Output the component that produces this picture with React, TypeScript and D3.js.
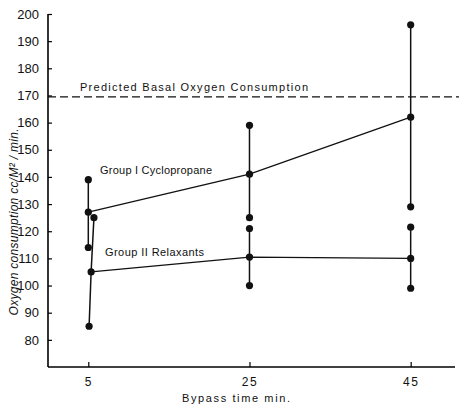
import React, { useEffect, useRef } from "react";
import * as d3 from "d3";

const xTicks = [5, 25, 45];
const yTicks = [80, 90, 100, 110, 120, 130, 140, 150, 160, 170, 180, 190, 200];
const predictedBasal = 169.5;

// Group I Cyclopropane: means joined by a line, with ranges at each time
const groupIMeans = [
  { t: 5, v: 127 },
  { t: 25, v: 141 },
  { t: 45, v: 162 },
];
const groupIRanges = [
  [{ t: 5, v: 139 }, { t: 5, v: 127 }, { t: 5, v: 114 }],
  [{ t: 25, v: 159 }, { t: 25, v: 141 }, { t: 25, v: 125 }],
  [{ t: 45, v: 196 }, { t: 45, v: 162 }, { t: 45, v: 129 }],
];

// Group II Relaxants
const groupIIMeans = [
  { t: 5.35, v: 105 },
  { t: 25, v: 110.5 },
  { t: 45, v: 110 },
];
const groupIIRanges = [
  [{ t: 5.7, v: 125 }, { t: 5.35, v: 105 }, { t: 5.1, v: 85 }],
  [{ t: 25, v: 121 }, { t: 25, v: 110.5 }, { t: 25, v: 100 }],
  [{ t: 45, v: 121.5 }, { t: 45, v: 110 }, { t: 45, v: 99 }],
];

const App = () => {
  const svgRef = useRef(null);

  useEffect(() => {
    const w = 459;
    const h = 406;
    const svg = d3.select(svgRef.current).attr("width", w).attr("height", h);
    svg.selectAll("*").remove();

    const x = d3.scaleLinear().domain([0, 50.5]).range([48, 455]);
    const y = d3.scaleLinear().domain([70, 200]).range([367, 14]);
    const font = "'Liberation Sans', Arial, sans-serif";

    // y axis
    const yAxis = d3
      .axisLeft(y)
      .tickValues(yTicks)
      .tickSize(-4)
      .tickPadding(9)
      .tickFormat(d3.format("d"));
    const gy = svg.append("g").attr("transform", `translate(${x(0)},0)`).call(yAxis);
    gy.select(".domain").attr("d", `M0,${y(200)}V${y(70)}`).attr("stroke-width", 1.6);
    gy.selectAll(".tick line").attr("stroke-width", 1.2);
    gy.selectAll("text").attr("font-size", 13).attr("font-family", font).attr("fill", "#111");

    // x axis
    const xAxis = d3.axisBottom(x).tickValues(xTicks).tickSize(-5).tickPadding(10);
    const gx = svg.append("g").attr("transform", `translate(0,${y(70)})`).call(xAxis);
    gx.select(".domain").attr("d", `M${x(0)},0H${x(50.5)}`).attr("stroke-width", 1.6);
    gx.selectAll(".tick line").attr("stroke-width", 1.2);
    gx.selectAll("text")
      .attr("font-size", 12)
      .attr("font-family", font)
      .attr("fill", "#111")
      .attr("letter-spacing", 1.5);

    // predicted basal line
    svg
      .append("line")
      .attr("x1", x(0))
      .attr("x2", w)
      .attr("y1", y(predictedBasal))
      .attr("y2", y(predictedBasal))
      .attr("stroke", "#111")
      .attr("stroke-width", 1.2)
      .attr("stroke-dasharray", "8,4");

    const line = d3
      .line<{ t: number; v: number }>()
      .x((d) => x(d.t))
      .y((d) => y(d.v));

    const groups = [
      { means: groupIMeans, ranges: groupIRanges },
      { means: groupIIMeans, ranges: groupIIRanges },
    ];

    groups.forEach((g) => {
      svg
        .append("path")
        .attr("d", line(g.means))
        .attr("fill", "none")
        .attr("stroke", "#111")
        .attr("stroke-width", 1.3);
      g.ranges.forEach((r) => {
        svg
          .append("path")
          .attr("d", line(r))
          .attr("fill", "none")
          .attr("stroke", "#111")
          .attr("stroke-width", 1.5);
      });
      svg
        .selectAll(null)
        .data(g.ranges.flat())
        .join("circle")
        .attr("cx", (d) => x(d.t))
        .attr("cy", (d) => y(d.v))
        .attr("r", 3.6)
        .attr("fill", "#111");
    });

    const label = (txt, lx, ly, len, size) =>
      svg
        .append("text")
        .attr("x", lx)
        .attr("y", ly)
        .attr("font-family", font)
        .attr("font-size", size)
        .attr("fill", "#111")
        .attr("textLength", len)
        .attr("lengthAdjust", "spacing")
        .text(txt);

    label("Predicted  Basal  Oxygen  Consumption", 80, 91, 228, 11);
    label("Group I  Cyclopropane", 100, 174, 112, 11);
    label("Group II  Relaxants", 105, 256, 99, 11);
    label("Bypass  time  min.", 182, 402, 108, 11);

    svg
      .append("text")
      .attr("transform", `translate(18,${222}) rotate(-90)`)
      .attr("text-anchor", "middle")
      .attr("font-family", font)
      .attr("font-size", 12)
      .attr("font-style", "italic")
      .attr("fill", "#111")
      .attr("textLength", 187)
      .attr("lengthAdjust", "spacing")
      .text("Oxygen consumption cc/M² / min.");
  }, []);

  return (
    <div>
      <svg ref={svgRef} style={{ position: "absolute", left: 0, top: 0, background: "#fff" }}></svg>
    </div>
  );
};

export default App;
